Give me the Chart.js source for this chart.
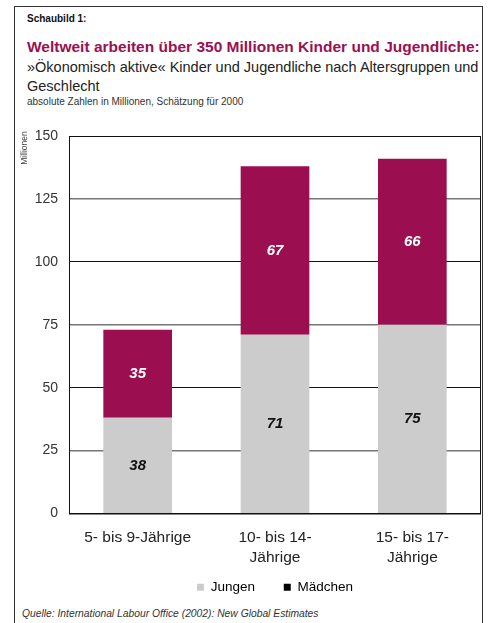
<!doctype html>
<html lang="de">
<head>
  <meta charset="utf-8" />
  <title>Schaubild 1</title>
  <script src="https://cdn.jsdelivr.net/npm/chart.js@4"></script>
  <style>
    body { margin: 0; background: #fff; font-family: "Liberation Sans", Arial, sans-serif; }
    #frame { position: absolute; left: 14px; top: 6px; width: 467px; height: 700px;
             border: 1.5px solid #333; border-bottom: none; }
    .txt { position: absolute; left: 27px; white-space: nowrap; }
    #kicker { top: 13px; font-size: 10px; font-weight: bold; color: #111; }
    #title { top: 38px; font-size: 15.5px; font-weight: bold; color: #9b1050; }
    #sub { top: 58px; font-size: 14.5px; color: #222; line-height: 19px; }
    #note { top: 96px; font-size: 10px; color: #333; }
    #source { left: 22px; top: 608px; font-size: 10.3px; font-style: italic; color: #333; }
    #canva { position: absolute; left: 0; top: 110px; width: 488px; height: 494px; }
  </style>
</head>
<body>
<div id="frame"></div>
<div class="txt" id="kicker">Schaubild 1:</div>
<div class="txt" id="title">Weltweit arbeiten über 350 Millionen Kinder und Jugendliche:</div>
<div class="txt" id="sub">»Ökonomisch aktive« Kinder und Jugendliche nach Altersgruppen und<br>Geschlecht</div>
<div class="txt" id="note">absolute Zahlen in Millionen, Schätzung für 2000</div>
<div class="txt" id="source">Quelle: International Labour Office (2002): New Global Estimates</div>
<div id="canva"><canvas id="myChart" width="488" height="494"></canvas></div>

<script>
// Altersgruppen
var groups = [["5- bis 9-Jährige"], ["10- bis 14-", "Jährige"], ["15- bis 17-", "Jährige"]];
// Werte in Millionen
var jungen = [38, 71, 75];
var maedchen = [35, 67, 66];
var yTicks = [0, 25, 50, 75, 100, 125, 150];

var grey = '#cccccc';
var purple = '#9b0f50';

// zahlen mitten in die balken
var barValues = {
  id: 'barValues',
  afterDatasetsDraw: function (chart) {
    var ctx = chart.ctx;
    ctx.save();
    ctx.font = 'italic bold 15px "Liberation Sans", Arial, sans-serif';
    ctx.textAlign = 'center';
    ctx.textBaseline = 'middle';
    chart.data.datasets.forEach(function (ds, i) {
      chart.getDatasetMeta(i).data.forEach(function (bar, j) {
        var mid = (bar.y + bar.base) / 2;
        ctx.fillStyle = i == 0 ? '#111' : '#fff';
        ctx.fillText(ds.data[j], bar.x, mid);
      });
    });
    ctx.restore();
  }
};

// rahmen um die plotflaeche + "Millionen"
var frame = {
  id: 'frame',
  afterDraw: function (chart) {
    var a = chart.chartArea;
    var ctx = chart.ctx;
    ctx.save();
    ctx.strokeStyle = '#111';
    ctx.lineWidth = 1;
    ctx.strokeRect(a.left + 0.5, a.top + 0.5, a.right - a.left - 1, a.bottom - a.top);
    ctx.translate(25, 38);
    ctx.rotate(-Math.PI / 2);
    ctx.font = '8.5px "Liberation Sans", Arial, sans-serif';
    ctx.fillStyle = '#444';
    ctx.textAlign = 'center';
    ctx.textBaseline = 'middle';
    ctx.fillText('Millionen', 0, 0);
    ctx.restore();
  }
};

const ctx = document.getElementById('myChart');
const myChart = new Chart(ctx, {
  type: 'bar',
  data: {
    labels: groups,
    datasets: [{
      label: 'Jungen',
      data: jungen,
      backgroundColor: grey,
      barPercentage: 0.5,
      categoryPercentage: 1.0
    }, {
      label: 'Mädchen',
      data: maedchen,
      backgroundColor: purple,
      barPercentage: 0.5,
      categoryPercentage: 1.0
    }]
  },
  options: {
    responsive: false,
    animation: false,
    layout: { padding: { top: 26, right: 7, left: 0, bottom: 0 } },
    plugins: {
      legend: {
        position: 'bottom',
        fullSize: false,
        labels: {
          boxWidth: 7,
          boxHeight: 7,
          padding: 10,
          color: '#222',
          font: { size: 13.5, family: '"Liberation Sans", Arial, sans-serif' },
          generateLabels: function () {
            // trailing spaces = extra abstand zwischen den eintraegen
            return [
              { text: 'Jungen     ', fillStyle: grey, strokeStyle: grey, lineWidth: 0, datasetIndex: 0 },
              { text: 'Mädchen', fillStyle: '#000', strokeStyle: '#000', lineWidth: 0, datasetIndex: 1 }
            ];
          }
        }
      },
      tooltip: { enabled: false }
    },
    scales: {
      x: {
        stacked: true,
        grid: { display: false },
        border: { display: false },
        ticks: {
          color: '#222',
          padding: 6,
          maxRotation: 0,
          font: { size: 15.5, lineHeight: 1.3, family: '"Liberation Sans", Arial, sans-serif' }
        },
        afterFit: function (scale) { scale.height = 57; }
      },
      y: {
        stacked: true,
        min: 0,
        max: 150,
        afterBuildTicks: function (scale) {
          scale.ticks = yTicks.map(function (v) { return { value: v }; });
        },
        afterFit: function (scale) { scale.width = 69; },
        border: { display: false },
        grid: {
          drawTicks: false,
          color: function (c) { return c.tick.value % 50 == 0 ? '#111' : '#777'; },
          lineWidth: function (c) { return c.tick.value % 50 == 0 ? 1 : 1.5; }
        },
        ticks: {
          color: '#333',
          padding: 11,
          font: { size: 14, family: '"Liberation Sans", Arial, sans-serif' }
        }
      }
    }
  },
  plugins: [barValues, frame]
});
</script>
</body>
</html>
